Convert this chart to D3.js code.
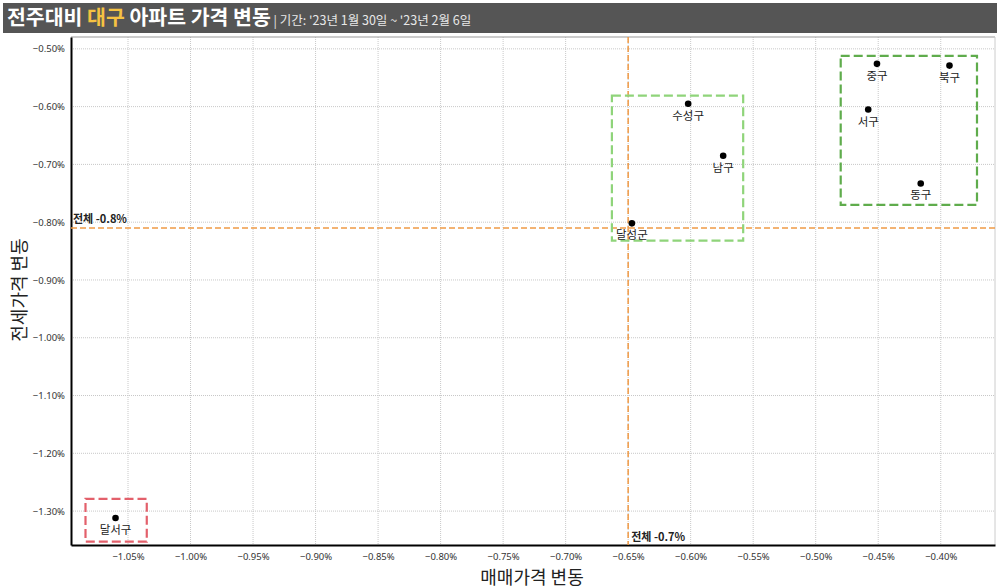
<!DOCTYPE html>
<html>
<head>
<meta charset="utf-8">
<script src="https://cdn.jsdelivr.net/npm/d3@7/dist/d3.min.js"></script>
<style>
  body { margin:0; background:#fff; font-family:"Noto Sans CJK KR","Noto Sans",sans-serif; }
</style>
</head>
<body>
<svg id="chart" width="1000" height="588"></svg>
<script>
  // data ------------------------------------------------------------
  var names    = ["중구","북구","서구","동구","수성구","남구","달성군","달서구"];
  var saleChg  = [-0.451,-0.393,-0.458,-0.416,-0.602,-0.574,-0.647,-1.060];   // 매매가격 변동 (%)
  var rentChg  = [-0.526,-0.529,-0.605,-0.733,-0.595,-0.685,-0.802,-1.312];   // 전세가격 변동 (%)
  var avgSale  = -0.65, avgSaleLabel = "-0.7%";
  var avgRent  = -0.81, avgRentLabel = "-0.8%";
  var xTicks   = [-1.05,-1.00,-0.95,-0.90,-0.85,-0.80,-0.75,-0.70,-0.65,-0.60,-0.55,-0.50,-0.45,-0.40];
  var yTicks   = [-0.5,-0.6,-0.7,-0.8,-0.9,-1.0,-1.1,-1.2,-1.3];
  // group boxes: [x0, x1, y0, y1] in data units
  var boxes = [
    {x0:-0.663, x1:-0.558, y0:-0.581, y1:-0.832, color:"#8fd47a"},
    {x0:-0.480, x1:-0.371, y0:-0.512, y1:-0.770, color:"#5fac4c"},
    {x0:-1.084, x1:-1.035, y0:-1.279, y1:-1.353, color:"#e3606b"}
  ];

  var chart = d3.select("#chart");
  var margin = {top: 37, bottom: 43, left: 71, right: 5};
  var svgWidth = 1000, svgHeight = 588;

  var x = d3.scaleLinear().domain([-1.0956, -0.3566]).range([margin.left, svgWidth - margin.right]);
  var y = d3.scaleLinear().domain([-0.4795, -1.3587]).range([margin.top, svgHeight - margin.bottom]);
  var fmt = function(v) { return d3.format(".2f")(v) + "%"; };

  // title bar
  chart.append("rect").attr("x",3).attr("y",3).attr("width",994).attr("height",30).style("fill","#555555");
  var title = chart.append("text").attr("x",7).attr("y",25)
      .style("font-size","20.5px").style("font-weight","bold").style("fill","#ffffff");
  title.append("tspan").text("전주대비 ");
  title.append("tspan").text("대구").style("fill","#f5c242");
  title.append("tspan").text(" 아파트 가격 변동");
  title.append("tspan").text(" | 기간: '23년 1월 30일 ~ '23년 2월 6일")
       .style("font-size","12.5px").style("font-weight","normal").style("fill","#e8e8e8");

  // grid
  chart.append("g").selectAll("line").data(xTicks).enter().append("line")
       .attr("x1", d => x(d)).attr("x2", d => x(d)).attr("y1", margin.top).attr("y2", svgHeight - margin.bottom)
       .style("stroke","#c8c8c8").style("stroke-width",1).style("stroke-dasharray","1,1");
  chart.append("g").selectAll("line").data(yTicks).enter().append("line")
       .attr("y1", d => y(d)).attr("y2", d => y(d)).attr("x1", margin.left).attr("x2", svgWidth - margin.right)
       .style("stroke","#c8c8c8").style("stroke-width",1).style("stroke-dasharray","1,1");

  // top & right frame
  chart.append("line").attr("x1",margin.left).attr("x2",svgWidth-margin.right).attr("y1",margin.top).attr("y2",margin.top)
       .style("stroke","#999").style("stroke-width",1);
  chart.append("line").attr("x1",svgWidth-margin.right).attr("x2",svgWidth-margin.right).attr("y1",margin.top).attr("y2",svgHeight-margin.bottom)
       .style("stroke","#ccc").style("stroke-width",1);

  // axes
  var xAxis = chart.append("g").attr("transform","translate(0," + (svgHeight - margin.bottom) + ")")
       .call(d3.axisBottom(x).tickValues(xTicks).tickFormat(fmt).tickSize(0).tickPadding(8));
  var yAxis = chart.append("g").attr("transform","translate(" + margin.left + ",0)")
       .call(d3.axisLeft(y).tickValues(yTicks).tickFormat(fmt).tickSize(0).tickPadding(6));
  [xAxis, yAxis].forEach(function(a) {
    a.select(".domain").style("stroke","#000").style("stroke-width",2);
    a.selectAll("text").style("font-family","'Noto Sans','DejaVu Sans',sans-serif")
     .style("font-size","9.5px").style("fill","#333");
  });

  // reference lines
  chart.append("line").attr("x1", x(avgSale)).attr("x2", x(avgSale)).attr("y1", margin.top).attr("y2", svgHeight - margin.bottom)
       .style("stroke","#f09a45").style("stroke-width",1.5).style("stroke-dasharray","6,3");
  chart.append("line").attr("y1", y(avgRent)).attr("y2", y(avgRent)).attr("x1", margin.left).attr("x2", svgWidth - margin.right)
       .style("stroke","#f09a45").style("stroke-width",1.5).style("stroke-dasharray","6,3");
  var l1 = chart.append("text").attr("x", margin.left + 2).attr("y", y(avgRent) - 5)
       .style("font-size","11px").style("font-weight","bold").style("fill","#222");
  l1.append("tspan").text("전체 ");
  l1.append("tspan").text(avgRentLabel);
  var l2 = chart.append("text").attr("x", x(avgSale) + 3).attr("y", svgHeight - margin.bottom - 4)
       .style("font-size","11px").style("font-weight","bold").style("fill","#222");
  l2.append("tspan").text("전체 ");
  l2.append("tspan").text(avgSaleLabel);

  // group boxes
  chart.append("g").selectAll("rect").data(boxes).enter().append("rect")
       .attr("x", d => x(d.x0)).attr("y", d => y(d.y0))
       .attr("width", d => x(d.x1) - x(d.x0)).attr("height", d => y(d.y1) - y(d.y0))
       .style("fill","none").style("stroke", d => d.color).style("stroke-width",2.2).style("stroke-dasharray","9,4");

  // points
  var pts = chart.append("g").selectAll("g").data(names).enter().append("g")
       .attr("transform", (d,i) => "translate(" + x(saleChg[i]) + "," + y(rentChg[i]) + ")");
  pts.append("circle").attr("r",3.3).style("fill","#000");
  pts.append("text").attr("y",16).text(d => d)
       .style("font-size","11.5px").style("fill","#222").style("text-anchor","middle");

  // axis titles
  chart.append("text").attr("x", 532).attr("y", 584).text("매매가격 변동")
       .style("font-size","18px").style("fill","#222").style("text-anchor","middle");
  chart.append("text").attr("transform","translate(26,290) rotate(-90)").text("전세가격 변동")
       .style("font-size","18px").style("fill","#222").style("text-anchor","middle");
</script>
</body>
</html>
